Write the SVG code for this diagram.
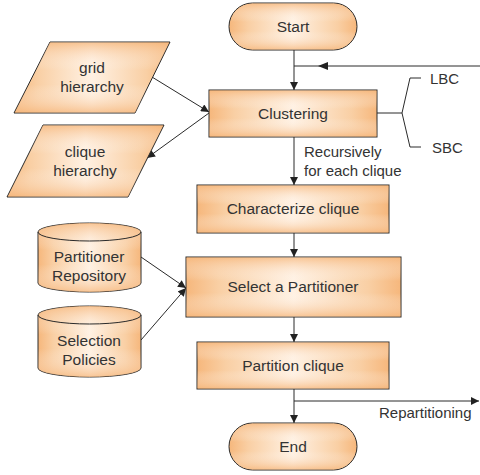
<svg xmlns="http://www.w3.org/2000/svg" width="480" height="475" viewBox="0 0 480 475">
  <defs>
    <linearGradient id="gh" x1="0" y1="0" x2="1" y2="0">
      <stop offset="0" stop-color="#f6b77c"/>
      <stop offset="0.15" stop-color="#f9cfa4"/>
      <stop offset="0.5" stop-color="#fff1e3"/>
      <stop offset="0.85" stop-color="#f9cfa4"/>
      <stop offset="1" stop-color="#f6b77c"/>
    </linearGradient>
    <linearGradient id="gv" x1="0" y1="0" x2="0" y2="1">
      <stop offset="0" stop-color="#f6b77c" stop-opacity="0.75"/>
      <stop offset="0.4" stop-color="#ffffff" stop-opacity="0"/>
      <stop offset="0.6" stop-color="#ffffff" stop-opacity="0"/>
      <stop offset="1" stop-color="#f6b77c" stop-opacity="0.75"/>
    </linearGradient>
    <marker id="ah" viewBox="0 0 10 10" refX="10" refY="5" markerWidth="9" markerHeight="8" markerUnits="userSpaceOnUse" orient="auto">
      <path d="M0,0 L10,5 L0,10 z" fill="#222"/>
    </marker>
    <style>
      .shape { fill: url(#gh); stroke: #2a2a2a; stroke-width: 1; }
      .shade { fill: url(#gv); stroke: none; }
      .edge { stroke: #2a2a2a; stroke-width: 1; fill: none; }
      .lbl { font-family: "Liberation Sans", Arial, sans-serif; font-size: 15.5px; fill: #333; text-anchor: middle; }
      .note { font-family: "Liberation Sans", Arial, sans-serif; font-size: 15px; fill: #333; }
    </style>
  </defs>

  <!-- connectors -->
  <g id="connectors">
    <line class="edge" x1="294" y1="50" x2="294" y2="90" marker-end="url(#ah)"/>
    <line class="edge" x1="480" y1="66" x2="294" y2="66"/>
    <path d="M318,66 L328,62 L328,70 z" fill="#222"/>
    <line class="edge" x1="294" y1="137" x2="294" y2="185" marker-end="url(#ah)"/>
    <line class="edge" x1="294" y1="233" x2="294" y2="257" marker-end="url(#ah)"/>
    <line class="edge" x1="294" y1="317" x2="294" y2="342" marker-end="url(#ah)"/>
    <line class="edge" x1="294" y1="389" x2="294" y2="423" marker-end="url(#ah)"/>
    <line class="edge" x1="294" y1="401" x2="479" y2="401" marker-end="url(#ah)"/>
    <line class="edge" x1="152" y1="77" x2="209" y2="112" marker-end="url(#ah)"/>
    <line class="edge" x1="209" y1="113" x2="147" y2="158" marker-end="url(#ah)"/>
    <line class="edge" x1="141" y1="257" x2="186" y2="288" marker-end="url(#ah)"/>
    <line class="edge" x1="141" y1="340" x2="186" y2="288" marker-end="url(#ah)"/>
    <line class="edge" x1="377" y1="113" x2="402" y2="113"/>
    <polyline class="edge" points="421,78 410,78 402,113 410,147 421,147"/>
    <text class="note" x="304" y="157">Recursively</text>
    <text class="note" x="304" y="176">for each clique</text>
    <text class="note" x="379" y="418">Repartitioning</text>
    <text class="note" x="430" y="84">LBC</text>
    <text class="note" x="432" y="153">SBC</text>
  </g>

  <g id="start">
    <rect class="shape" x="229" y="3" width="128" height="47" rx="23.5"/>
    <rect class="shade" x="229.5" y="3.5" width="127" height="46" rx="23"/>
    <text class="lbl" x="293" y="32">Start</text>
  </g>

  <g id="clustering">
    <rect class="shape" x="209" y="90" width="168" height="47"/>
    <rect class="shade" x="209.5" y="90.5" width="167" height="46"/>
    <text class="lbl" x="293" y="119">Clustering</text>
  </g>

  <g id="characterize">
    <rect class="shape" x="197" y="185" width="192" height="48"/>
    <rect class="shade" x="197.5" y="185.5" width="191" height="47"/>
    <text class="lbl" x="293" y="214">Characterize clique</text>
  </g>

  <g id="select">
    <rect class="shape" x="186" y="257" width="215" height="60"/>
    <rect class="shade" x="186.5" y="257.5" width="214" height="59"/>
    <text class="lbl" x="293" y="292">Select a Partitioner</text>
  </g>

  <g id="partition">
    <rect class="shape" x="197" y="342" width="192" height="47"/>
    <rect class="shade" x="197.5" y="342.5" width="191" height="46"/>
    <text class="lbl" x="293" y="371">Partition clique</text>
  </g>

  <g id="end">
    <rect class="shape" x="229" y="423" width="128" height="47" rx="23.5"/>
    <rect class="shade" x="229.5" y="423.5" width="127" height="46" rx="23"/>
    <text class="lbl" x="293" y="452">End</text>
  </g>

  <g id="grid-hierarchy">
    <polygon class="shape" points="50,42 170,42 135,113 14,113"/>
    <polygon class="shade" points="50,42.5 169,42.5 135,112.5 15,112.5"/>
    <text class="lbl" x="92" y="73">grid</text>
    <text class="lbl" x="92" y="92">hierarchy</text>
  </g>

  <g id="clique-hierarchy">
    <polygon class="shape" points="43,125 164,125 128,197 7,197"/>
    <polygon class="shade" points="43,125.5 163,125.5 128,196.5 8,196.5"/>
    <text class="lbl" x="85" y="157">clique</text>
    <text class="lbl" x="85" y="176">hierarchy</text>
  </g>

  <g id="partitioner-repository">
    <path class="shape" d="M38,232 A51.5,9 0 0 1 141,232 V283 A51.5,9 0 0 1 38,283 Z"/>
    <path class="shade" d="M38.5,232 A51,9 0 0 1 140.5,232 V283 A51,9 0 0 1 38.5,283 Z"/>
    <path class="edge" d="M38,232 A51.5,9 0 0 0 141,232"/>
    <text class="lbl" x="89" y="262">Partitioner</text>
    <text class="lbl" x="89" y="281">Repository</text>
  </g>

  <g id="selection-policies">
    <path class="shape" d="M38,315 A51.5,9 0 0 1 141,315 V368 A51.5,9 0 0 1 38,368 Z"/>
    <path class="shade" d="M38.5,315 A51,9 0 0 1 140.5,315 V368 A51,9 0 0 1 38.5,368 Z"/>
    <path class="edge" d="M38,315 A51.5,9 0 0 0 141,315"/>
    <text class="lbl" x="89" y="346">Selection</text>
    <text class="lbl" x="89" y="365">Policies</text>
  </g>
</svg>
